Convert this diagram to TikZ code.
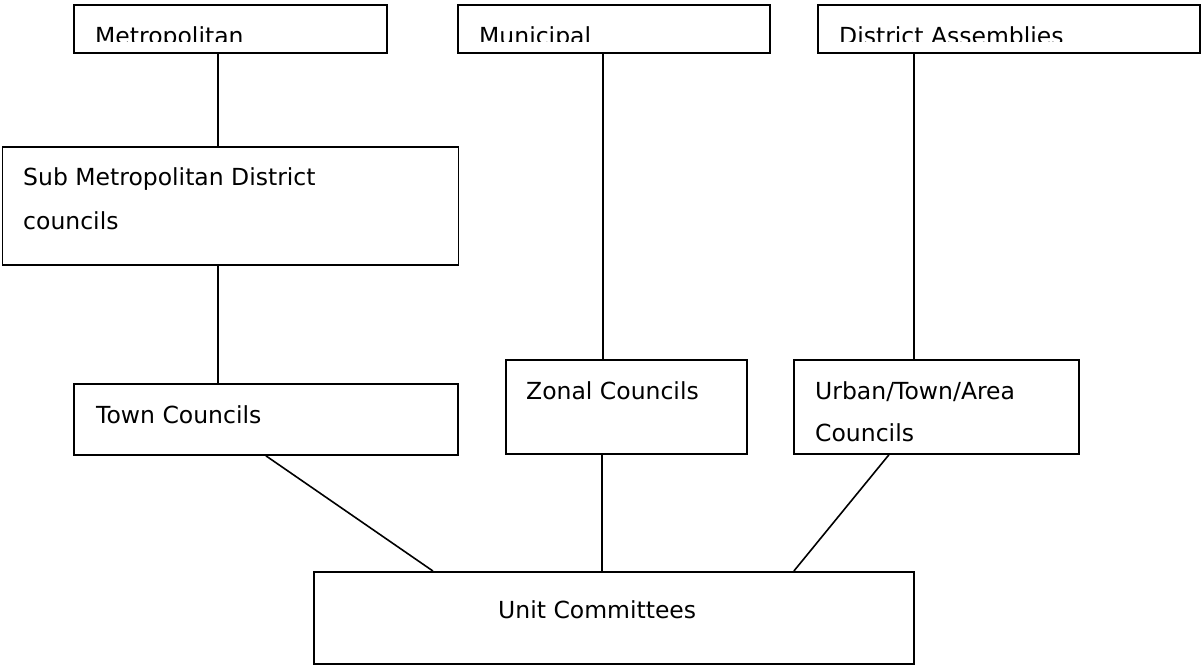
\documentclass[tikz,border=0pt]{standalone}
\usepackage{fontspec}
\setmainfont{DejaVu Sans}
\begin{document}
\begin{tikzpicture}[x=1pt, y=-1pt,
    box/.style={draw=black, line width=1.8pt, rectangle, inner sep=0pt, anchor=north west},
    lbl/.style={inner sep=0pt, anchor=base west, font=\fontsize{23.5}{28}\selectfont},
    link/.style={black, line width=1.6pt}]
    \useasboundingbox (0,0) rectangle (1202,666);

    % top row
    \node[box, minimum width=313pt, minimum height=48pt] (metro) at (73,4) {};
    \node[box, minimum width=312pt, minimum height=48pt] (muni) at (457,4) {};
    \node[box, minimum width=382pt, minimum height=48pt] (dist) at (817,4) {};
    \begin{scope}
        \clip (0,0) rectangle (1202,42);
        \node[lbl] (metrotxt) at (95,45) {Metropolitan};
        \node[lbl] (munitxt) at (479,45) {Municipal};
        \node[lbl] (disttxt) at (839,45) {District Assemblies};
    \end{scope}

    % middle
    \node[box, minimum width=456pt, minimum height=118pt] (sub) at (1.5,146) {};
    \node[lbl] (subtxt) at (23,185) {Sub Metropolitan District};
    \node[lbl] (subtxtb) at (23,229) {councils};

    % lower row
    \node[box, minimum width=384pt, minimum height=71pt] (town) at (73,383) {};
    \node[lbl] (towntxt) at (96,423) {Town Councils};
    \node[box, minimum width=241pt, minimum height=94pt] (zonal) at (505,359) {};
    \node[lbl] (zonaltxt) at (526,399) {Zonal Councils};
    \node[box, minimum width=285pt, minimum height=94pt] (urban) at (793,359) {};
    \node[lbl] (urbantxt) at (815,399) {Urban/Town/Area};
    \node[lbl] (urbantxtb) at (815,441) {Councils};

    % bottom
    \node[box, minimum width=600pt, minimum height=92pt] (unit) at (313,571) {};
    \node[lbl] (unittxt) at (498,618) {Unit Committees};

    % connectors
    \draw[link] ([xshift=-12.5pt]metro.south) -- ([xshift=-12.5pt]sub.north);
    \draw[link] ([xshift=-12.5pt]sub.south) -- ([xshift=-48pt]town.north);
    \draw[link] ([xshift=-11pt]muni.south) -- ([xshift=-23.5pt]zonal.north);
    \draw[link] ([xshift=-95pt]dist.south) -- ([xshift=-22.5pt]urban.north);
    \draw[link] (town.south) -- ([xshift=-181pt]unit.north);
    \draw[link] ([xshift=-24.5pt]zonal.south) -- ([xshift=-12pt]unit.north);
    \draw[link] ([xshift=-47.5pt]urban.south) -- ([xshift=180pt]unit.north);
\end{tikzpicture}
\end{document}
